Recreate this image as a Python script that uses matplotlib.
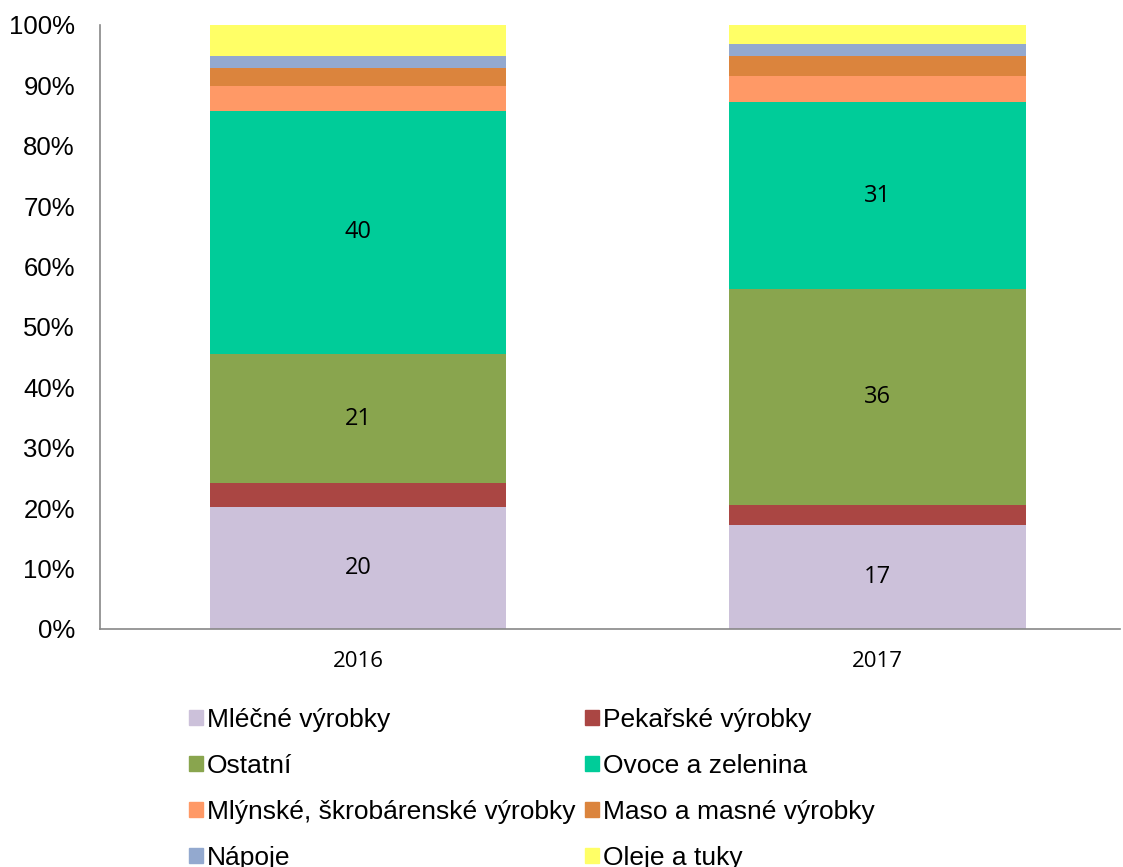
import numpy as np
import matplotlib
matplotlib.use('Agg')
import matplotlib.pyplot as plt
from matplotlib.patches import Patch

years = ['2016', '2017']
series = ['Mléčné výrobky', 'Pekařské výrobky', 'Ostatní', 'Ovoce a zelenina',
          'Mlýnské, škrobárenské výrobky', 'Maso a masné výrobky', 'Nápoje', 'Oleje a tuky']
mlecne = [20.2, 17.3]
pekarske = [4.0, 3.3]
ostatni = [21.3, 35.7]
ovoce = [40.3, 30.9]
mlynske = [4.1, 4.4]
maso = [3.0, 3.3]
napoje = [2.0, 1.9]
oleje = [5.1, 3.3]
labelled = ['Mléčné výrobky', 'Ostatní', 'Ovoce a zelenina']

colors = ['#CCC1DA', '#AA4643', '#89A54E', '#00CC99',
          '#FF9966', '#DB843D', '#93A9CF', '#FFFF66']

values = [mlecne, pekarske, ostatni, ovoce, mlynske, maso, napoje, oleje]

fig = plt.figure(figsize=(11.23, 8.67), dpi=100)
ax = fig.add_axes([100 / 1123, 1 - 629 / 867, 1020 / 1123, 604 / 867])

x = np.arange(len(years))
bottom = np.zeros(len(years))
for name, vals, col in zip(series, values, colors):
    vals = np.array(vals)
    bars = ax.bar(x, vals, 0.572, bottom=bottom, color=col, label=name)
    if name in labelled:
        ax.bar_label(bars, labels=['%d' % round(v) for v in vals], label_type='center',
                     fontsize=17, family='Open Sans', color='black')
    bottom += vals

ax.set_xlim(-0.497, 1.468)
ax.set_ylim(0, 100)
ax.set_yticks(np.arange(0, 101, 10))
ax.set_yticklabels(['%d%%' % v for v in range(0, 101, 10)], fontsize=18.5, family='Liberation Sans')
ax.set_xticks(x)
ax.set_xticklabels(years, fontsize=16, family='Open Sans')
ax.tick_params(axis='both', length=0)
ax.tick_params(axis='y', pad=18)
ax.tick_params(axis='x', pad=16)
for s in ['top', 'right']:
    ax.spines[s].set_visible(False)
for s in ['left', 'bottom']:
    ax.spines[s].set_color('#888888')
    ax.spines[s].set_linewidth(1.2)

# legend fills column-wise, reorder to read row-wise
handles = [Patch(color=c, label=n) for n, c in zip(series, colors)]
order = [0, 2, 4, 6, 1, 3, 5, 7]
fig.legend([handles[i] for i in order], [series[i] for i in order],
           loc='upper left', bbox_to_anchor=(189 / 1123, 1 - 708 / 867), ncol=2,
           frameon=False, prop={'family': 'Liberation Sans', 'size': 19},
           handlelength=0.53, handleheight=0.53, handletextpad=0.15,
           columnspacing=0.38, labelspacing=0.83, borderaxespad=0, borderpad=0)

fig.savefig('out.png', dpi=100)
